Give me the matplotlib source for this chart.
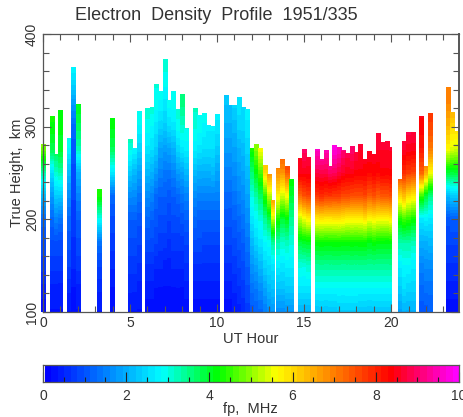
import matplotlib
matplotlib.use('Agg')
import numpy as np
import matplotlib.pyplot as plt
from matplotlib.colors import LinearSegmentedColormap
from matplotlib.patches import Rectangle
from matplotlib.ticker import MultipleLocator

plt.rcParams['font.family'] = ['Liberation Sans', 'DejaVu Sans']

# UT hour of each sounding and the highest height reached, km
hours = [0, 0.5, 0.75, 1, 1.5, 1.75, 2, 3.25, 4, 5, 5.25, 5.5,
         6, 6.25, 6.5, 6.75, 7, 7.25, 7.5, 7.75, 8, 8.25,
         8.75, 9, 9.25, 9.5, 9.75, 10,
         10.5, 10.75, 11, 11.25, 11.5, 11.75, 12, 12.25, 12.5, 12.75, 13, 13.25, 13.5, 13.75, 14, 14.25,
         14.75, 15, 15.25,
         15.75, 16, 16.25, 16.5, 16.75, 17, 17.25, 17.5, 17.75, 18, 18.25, 18.5, 18.75, 19, 19.25, 19.5, 19.75, 20,
         20.5, 20.75, 21, 21.25, 21.75, 22, 22.25, 23.25, 23.5, 23.75]
tops = [281, 312, 270, 318, 288, 364, 325, 233, 309, 287, 277, 317,
        320, 321, 346, 339, 373, 329, 339, 319, 335, 299,
        320, 313, 315, 302, 301, 314,
        334, 323, 323, 332, 321, 319, 277, 281, 277, 259, 249, 221, 255, 265, 258, 243,
        266, 276, 267,
        276, 265, 275, 258, 280, 278, 275, 272, 279, 273, 281, 265, 274, 271, 293, 283, 285, 278,
        243, 284, 294, 294, 312, 258, 315, 343, 316, 295]

# fp in MHz at heights 100, 125, 150 ... km, one row per sounding
level_start = 100
level_step = 25
fp_rows = [
    [.2, .4, .7, .9, 1.2, 2.1, 3.3, 4.8, 5.2],
    [.3, .4, .7, .9, 1.2, 1.75, 2.5, 3.8, 4.2, 4.3],
    [.3, .4, .7, .9, 1.5, 2.3, 3.1, 3.8],
    [.3, .4, .7, .9, 1.35, 2.3, 3.3, 4, 4.1, 4.2],
    [.3, .5, .8, 1, 1.2, 1.6, 2.1, 2.8, 3],
    [.2, .3, .5, .6, .7, .8, .9, 1, 1.2, 1.75, 2.5, 3],
    [.3, .4, .7, .9, 1.1, 1.5, 2, 3.2, 3.7, 4.1],
    [.3, .5, .8, 1.35, 2.9, 4.3, 4.5],
    [.2, .3, .5, .7, .9, 1.2, 2.6, 3.7, 4.1, 4.2],
    [.3, .5, .7, .9, 1.1, 1.6, 2.3, 3, 3.5],
    [.3, .5, .7, .9, 1.1, 1.6, 2.1, 2.8],
    [.3, .4, .6, .8, 1, 1.35, 1.85, 2.4, 2.8, 3],
    [.2, .4, .6, .9, 1.2, 1.6, 2.1, 2.6, 2.9, 3.1],
    [.2, .4, .6, .9, 1.1, 1.5, 2, 2.5, 2.8, 3.1],
    [.2, .3, .5, .8, 1, 1.2, 1.75, 2.3, 2.6, 2.9, 3],
    [.2, .3, .5, .7, .9, 1.1, 1.5, 1.85, 2.4, 2.8, 2.9],
    [.2, .3, .4, .7, .9, 1.1, 1.35, 1.75, 2.3, 2.6, 2.9, 3.1],
    [.2, .3, .4, .6, .8, 1, 1.35, 1.85, 2.5, 2.9],
    [.2, .3, .5, .7, .9, 1.1, 1.5, 2, 2.6, 2.9, 3],
    [.2, .3, .5, .7, .9, 1.2, 1.75, 2.4, 2.9, 3.1],
    [.2, .3, .5, .7, 1, 1.35, 1.85, 2.6, 3.1, 3.5, 3.7],
    [.2, .4, .6, .8, 1.1, 1.5, 2.1, 2.7, 3],
    [.2, .4, .6, .9, 1.2, 1.6, 2.1, 2.7, 3, 3.2],
    [.2, .4, .6, .9, 1.1, 1.5, 2, 2.6, 2.9, 3],
    [.2, .4, .6, .8, 1.1, 1.5, 2, 2.5, 2.8, 2.9],
    [.2, .4, .6, .8, 1.1, 1.5, 2, 2.5, 2.7],
    [.2, .4, .6, .8, 1.1, 1.5, 2.1, 2.5, 2.7],
    [.2, .4, .6, .8, 1.1, 1.5, 1.85, 2.3, 2.6, 2.8],
    [.2, .4, .6, .8, 1, 1.2, 1.5, 1.75, 2, 2.2, 2.5],
    [.2, .4, .6, .8, 1, 1.2, 1.5, 1.75, 2, 2.2],
    [.3, .5, .7, .9, 1.1, 1.35, 1.6, 1.85, 2.1, 2.4],
    [.4, .6, .8, 1, 1.2, 1.5, 1.75, 2, 2.4, 2.6],
    [.5, .7, .9, 1.1, 1.35, 1.6, 1.85, 2.1, 2.4, 2.5],
    [.7, .9, 1.1, 1.35, 1.6, 1.85, 2.1, 2.4, 2.6, 2.8],
    [1, 1.3, 1.7, 2.1, 2.6, 3, 3.6, 4.3],
    [1.1, 1.4, 1.85, 2.4, 2.8, 3.3, 4.1, 4.9, 5],
    [1.2, 1.6, 2.1, 2.6, 3, 3.7, 4.6, 5.6],
    [1.4, 1.85, 2.4, 2.8, 3.4, 4.4, 6, 6.8],
    [1.6, 2.1, 2.5, 2.9, 3.8, 5.2, 6.8, 7],
    [1.7, 2.2, 2.6, 3.4, 5.3, 6.9, 7],
    [1.6, 2.2, 2.7, 3.3, 4.3, 5.7, 6.8, 7.3],
    [1.6, 2.2, 2.6, 3.1, 3.9, 5.3, 6.7, 7.6],
    [1.7, 2.3, 2.7, 3.2, 4.1, 5.6, 7.4, 8.2],
    [1.7, 2.3, 2.7, 3, 3.4, 3.9, 4.3],
    [2, 2.6, 3, 3.9, 5.2, 7.2, 8.5, 8.6],
    [2, 2.6, 3, 4, 5.5, 7.5, 8.5, 9, 9.1],
    [2, 2.6, 3.1, 4, 5.7, 7.6, 8.5, 8.8],
    [2.2, 2.8, 3.4, 4.2, 5.8, 7.8, 8.8, 9.6, 9.7],
    [2.2, 2.8, 3.4, 4.2, 5.8, 7.9, 8.8, 9.6],
    [2.2, 2.8, 3.4, 4.2, 5.8, 7.8, 8.8, 9.5, 9.7],
    [2.2, 2.8, 3.4, 4.2, 5.8, 7.8, 9, 9.7],
    [2.2, 2.8, 3.4, 4.2, 5.8, 7.7, 8.9, 9.7, 9.9],
    [2.3, 2.8, 3.4, 4.2, 5.8, 7.7, 8.7, 9.5, 9.6],
    [2.3, 2.8, 3.4, 4.2, 5.8, 7.6, 8.6, 9.1, 9.2],
    [2.3, 2.8, 3.4, 4.2, 5.7, 7.6, 8.5, 8.9, 9],
    [2.3, 2.8, 3.4, 4.2, 5.7, 7.5, 8.5, 9, 9.1],
    [2.3, 2.8, 3.4, 4.2, 5.7, 7.5, 8.4, 8.8, 8.9],
    [2.2, 2.8, 3.4, 4.2, 5.7, 7.5, 8.4, 8.6, 8.8],
    [2.2, 2.8, 3.4, 4.2, 5.8, 7.6, 8.4, 8.5],
    [2.2, 2.8, 3.4, 4.1, 5.6, 7.4, 8.3, 8.6],
    [2.2, 2.8, 3.4, 4.2, 5.7, 7.5, 8.4, 8.5],
    [2.2, 2.8, 3.4, 4.1, 5.6, 7.3, 8.3, 8.6, 8.8],
    [2.2, 2.8, 3.4, 4.1, 5.6, 7.4, 8.4, 8.6, 8.7],
    [2.2, 2.8, 3.4, 4.1, 5.6, 7.4, 8.4, 8.6, 8.7],
    [2.2, 2.8, 3.4, 4.1, 5.7, 7.5, 8.4, 8.6, 8.7],
    [1.8, 2.3, 2.7, 3.3, 4.3, 6, 7.8],
    [2, 2.5, 2.8, 3.3, 4.5, 6.3, 7.9, 8.6, 8.7],
    [2, 2.4, 2.8, 3.3, 4.4, 5.9, 7.7, 8.5, 8.9],
    [2, 2.4, 2.7, 3.2, 4.2, 5.8, 7.6, 8.5, 8.8],
    [1, 1.2, 1.5, 2, 2.6, 4.5, 7.3, 8.1, 8.4, 8.5],
    [1, 1.3, 1.6, 2, 2.7, 3.9, 6.5, 7.7],
    [1.1, 1.3, 1.6, 2.1, 2.6, 3.5, 5.6, 7, 7.6, 7.9],
    [.2, .4, .6, .8, 1, 2.1, 3.9, 5.6, 6.4, 6.9, 7, 7.1],
    [.2, .4, .6, .8, 1.1, 2.3, 3.9, 5.4, 6, 6.7],
    [.2, .4, .6, .8, 1.1, 2.3, 3.9, 5.3, 6, 6.2],
]

x_ticks = [0, 5, 10, 15, 20]
y_ticks = [100, 200, 300, 400]
cbar_ticks = [0, 2, 4, 6, 8, 10]

# colours of the fp scale
scale_stops = [0, 2.8, 4.17, 5.6, 8.4, 10]
scale_colors = ['#0000ff', '#00ffff', '#00ff00', '#ffff00', '#ff0000', '#ff00ff']
fp_cmap = LinearSegmentedColormap.from_list(
    'fp', [(s / 10, c) for s, c in zip(scale_stops, scale_colors)], N=64)

grey = '#555555'
text_grey = '#333333'
W, H = 464, 417


def px_axes(fig, left, top, right, bottom):
    return fig.add_axes([left / W, 1 - bottom / H, (right - left) / W, (bottom - top) / H])


fig = plt.figure(figsize=(W / 100, H / 100), dpi=100)
ax = px_axes(fig, 43, 34, 459, 312)

half = 0.125
for hour, top, row in zip(hours, tops, fp_rows):
    x0 = hour - half
    x1 = hour + half
    if hour == 20:
        x1 = hour - 0.01
    if hour == 13.25:
        x1 = hour + 0.07
    col = np.array(row)[:, None]
    y0 = level_start - level_step / 2
    y1 = level_start + level_step * (len(row) - 0.5)
    im = ax.imshow(col, origin='lower', extent=[x0, x1, y0, y1], aspect='auto',
                   cmap=fp_cmap, vmin=0, vmax=10,
                   interpolation='bilinear', interpolation_stage='data')
    im.set_clip_path(Rectangle((x0, 100), x1 - x0, top - 100, transform=ax.transData))

ax.set_xlim(0, 23.9)
ax.set_ylim(100, 400)
ax.set_xticks(x_ticks)
ax.set_yticks(y_ticks)
ax.xaxis.set_minor_locator(MultipleLocator(1))
ax.yaxis.set_minor_locator(MultipleLocator(20))
ax.tick_params(which='major', direction='in', length=6, width=0.8, color=grey,
               top=True, right=True, labelsize=10, labelcolor=text_grey, pad=3)
ax.tick_params(which='minor', direction='in', length=4, width=0.8, color=grey,
               top=True, right=True)
for lab in ax.get_yticklabels():
    lab.set_rotation(90)
    lab.set_verticalalignment('center')
for s in ax.spines.values():
    s.set_color(grey)
    s.set_linewidth(0.9)
ax.spines['right'].set_linewidth(1.4)

fig.text(216 / W, 1 - 16 / H, 'Electron  Density  Profile  1951/335', ha='center', va='center',
         fontsize=13, color=text_grey)
fig.text(251 / W, 1 - 339 / H, 'UT Hour', ha='center', va='center', fontsize=10.5, color=text_grey)
fig.text(17 / W, 1 - 173 / H, 'True Height,  km', ha='center', va='center', rotation=90,
         fontsize=10.5, color=text_grey)

cax = px_axes(fig, 43, 365, 459, 382)
gradient = np.linspace(0, 10, 64)[None, :]
cax.imshow(gradient, extent=[0.06, 10, 0, 1], aspect='auto', cmap=fp_cmap, vmin=0, vmax=10,
           interpolation='nearest')
cax.set_xlim(0, 10)
cax.set_ylim(0, 1)
cax.set_yticks([])
cax.set_xticks(cbar_ticks)
cax.xaxis.set_minor_locator(MultipleLocator(0.5))
cax.tick_params(which='major', direction='in', length=7, width=0.8, color='#222222',
                labelsize=10, labelcolor=text_grey, pad=5)
cax.tick_params(which='minor', direction='in', length=3.5, width=0.8, color='#222222')
for s in cax.spines.values():
    s.set_color(grey)
    s.set_linewidth(0.9)

fig.text(250 / W, 1 - 409 / H, 'fp,  MHz', ha='center', va='center', fontsize=10.5, color=text_grey)

fig.savefig('out.png', dpi=100)
